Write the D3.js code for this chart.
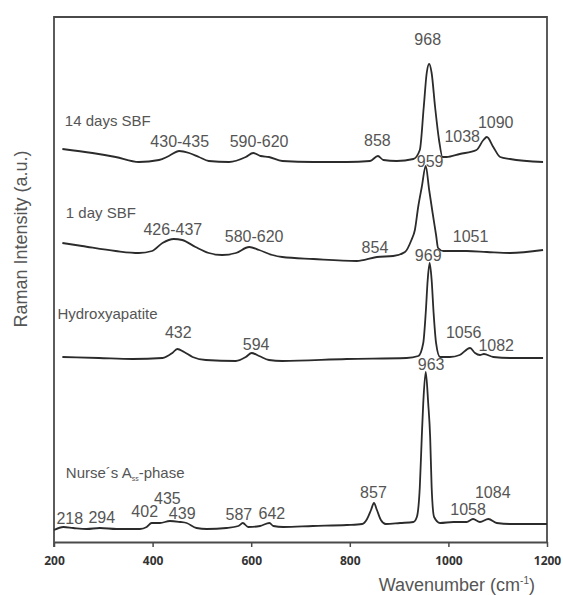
<!DOCTYPE html>
<html>
<head>
<meta charset="utf-8">
<script src="https://cdn.jsdelivr.net/npm/d3@7"></script>
<style>
  body { margin: 0; background: #fff; }
  text { font-family: "Liberation Sans", Arial, sans-serif; }
</style>
</head>
<body>
<div id="chart"></div>
<script>
// wavenumber (cm-1), intensity (a.u., stacked as drawn)
const xTicks = [200, 400, 600, 800, 1000, 1200]

const sbf14 = [[217,393],[278,389],[325,385],[372,380],[413,382],[433,386],[454,391],[474,389],[494,385],[514,381],
  [555,380],[589,385],[604,389],[619,386],[636,385],[663,381],[726,380],[794,380],[841,381],[857,386],[868,382],
  [895,381],[929,383],[942,392],[950,435],[956,469],[961,478],[966,469],[973,435],[981,402],[988,385],[996,385],
  [1023,388],[1057,392],[1071,402],[1078,405],[1091,395],[1105,385],[1125,383],[1192,380]]

const sbf1 = [[217,299],[257,296],[325,291],[372,289],[399,291],[420,299],[443,303],[460,302],[487,295],[514,289],
  [541,287],[569,289],[596,295],[616,292],[643,287],[663,285],[726,283],[814,281],[855,285],[888,286],[912,290],
  [925,302],[932,312],[939,336],[946,355],[954,376],[961,352],[968,329],[975,307],[979,294],[990,291],[1037,291],
  [1078,290],[1125,289],[1192,292]]

const hap = [[217,185],[291,184],[359,183],[420,184],[440,189],[450,193],[464,190],[481,185],[508,182],[569,181],
  [589,185],[601,189],[616,186],[636,182],[663,181],[794,183],[915,184],[939,186],[949,199],[954,229],[958,262],
  [962,279],[966,262],[970,229],[975,199],[983,185],[1003,185],[1023,187],[1044,194],[1054,189],[1064,187],
  [1072,188],[1091,185],[1125,184],[1192,184]]

const nurse = [[200,12],[219,15],[239,14],[266,13],[293,14],[327,13],[374,13],[388,15],[398,19],[415,19],[435,21],
  [456,20],[469,19],[489,14],[510,13],[550,14],[574,16],[583,19],[594,15],[618,16],[637,19],[645,16],[665,15],
  [725,16],[794,17],[825,18],[835,23],[843,32],[849,39],[855,32],[863,22],[873,18],[902,19],[929,20],[936,25],
  [942,55],[946,105],[949,139],[954,170],[959,139],[963,105],[966,55],[971,25],[983,19],[1010,20],[1037,20],
  [1050,23],[1064,20],[1081,23],[1098,19],[1125,18],[1200,18]]

// peak labels: text, wavenumber, intensity (baseline)
const labels14 = [["430-435",455,395],["590-620",616,395],["858",856,396],["968",958,497],["1038",1028,400],["1090",1096,414]]
const labels1 = [["426-437",441,307],["580-620",606,300],["854",851,289],["959",963,375],["1051",1045,300]]
const labelsHap = [["432",452,204],["594",610,192],["969",959,281],["1056",1031,204],["1082",1097,191]]
const labelsNurse = [["218",232,18],["294",297,19],["402",384,25],["435",430,38],["439",460,23],["587",575,22],
  ["642",642,23],["857",848,44],["963",965,172],["1058",1040,27],["1084",1090,44]]

// sample names: text, wavenumber, intensity (start of text)
const names = [["14 days SBF",222,416],["1 day SBF",224,324],["Hydroxyapatite",207,223]]

const w = 563
const h = 595

const xScale = d3.scaleLinear().domain([200, 1200]).range([54, 547])
const yScale = d3.scaleLinear().domain([0, 525]).range([542, 17])

const svg = d3.select('#chart')
  .append('svg')
  .attr('width', w)
  .attr('height', h)

const frameColor = '#4a4a4a'

// frame
svg.append('line')
  .attr('x1', xScale(200)).attr('x2', xScale(1200))
  .attr('y1', yScale(525)).attr('y2', yScale(525))
  .attr('stroke', frameColor).attr('stroke-width', 1.8)
svg.append('line')
  .attr('x1', xScale(200)).attr('x2', xScale(200))
  .attr('y1', yScale(525) - 0.9).attr('y2', yScale(0) + 5)
  .attr('stroke', frameColor).attr('stroke-width', 1.8)
svg.append('line')
  .attr('x1', xScale(1200)).attr('x2', xScale(1200))
  .attr('y1', yScale(525) - 0.9).attr('y2', yScale(0))
  .attr('stroke', frameColor).attr('stroke-width', 1.8)

const xAxis = d3.axisBottom(xScale)
  .tickValues(xTicks)
  .tickFormat(d3.format('d'))
  .tickSize(5)
  .tickSizeOuter(0)
  .tickPadding(9)

const gx = svg.append('g')
  .attr('transform', 'translate(0,' + yScale(0) + ')')
  .call(xAxis)
gx.select('.domain').attr('stroke', frameColor).attr('stroke-width', 1.8)
gx.selectAll('.tick line').attr('stroke', frameColor).attr('stroke-width', 1.5)
gx.selectAll('.tick text')
  .attr('fill', '#333')
  .style('font-family', '"Open Sans", sans-serif')
  .style('font-weight', 700)
  .style('font-size', '12px')

// spectra
const line = d3.line()
  .x(d => xScale(d[0]))
  .y(d => yScale(d[1]))
  .curve(d3.curveMonotoneX)

svg.selectAll('path.spectrum')
  .data([sbf14, sbf1, hap, nurse])
  .enter()
  .append('path')
  .attr('class', 'spectrum')
  .attr('d', line)
  .attr('fill', 'none')
  .attr('stroke', '#2b2b2b')
  .attr('stroke-width', 1.8)
  .attr('stroke-linejoin', 'round')

// peak labels
const allLabels = labels14.concat(labels1, labelsHap, labelsNurse)
svg.selectAll('text.peak')
  .data(allLabels)
  .enter()
  .append('text')
  .attr('class', 'peak')
  .attr('x', d => xScale(d[1]))
  .attr('y', d => yScale(d[2]))
  .attr('text-anchor', 'middle')
  .attr('fill', '#555')
  .style('font-size', '16px')
  .text(d => d[0])

svg.selectAll('text.name')
  .data(names)
  .enter()
  .append('text')
  .attr('class', 'name')
  .attr('x', d => xScale(d[1]))
  .attr('y', d => yScale(d[2]))
  .attr('fill', '#555')
  .style('font-size', '15px')
  .text(d => d[0])

const nurseName = svg.append('text')
  .attr('x', xScale(224))
  .attr('y', yScale(64))
  .attr('fill', '#555')
  .style('font-size', '15px')
nurseName.append('tspan').text('Nurse´s A')
nurseName.append('tspan').attr('dy', 3).style('font-size', '7px').text('ss')
nurseName.append('tspan').attr('dy', -3).text('-phase')

// axis titles
const xTitle = svg.append('text')
  .attr('x', 535)
  .attr('y', 591)
  .attr('text-anchor', 'end')
  .attr('fill', '#555')
  .style('font-size', '18px')
xTitle.append('tspan').text('Wavenumber (cm')
xTitle.append('tspan').attr('dy', -7).style('font-size', '10px').text('-1')
xTitle.append('tspan').attr('dy', 7).text(')')

svg.append('text')
  .attr('transform', 'translate(27,239) rotate(-90)')
  .attr('text-anchor', 'middle')
  .attr('fill', '#555')
  .style('font-size', '18px')
  .text('Raman Intensity (a.u.)')
</script>
</body>
</html>
